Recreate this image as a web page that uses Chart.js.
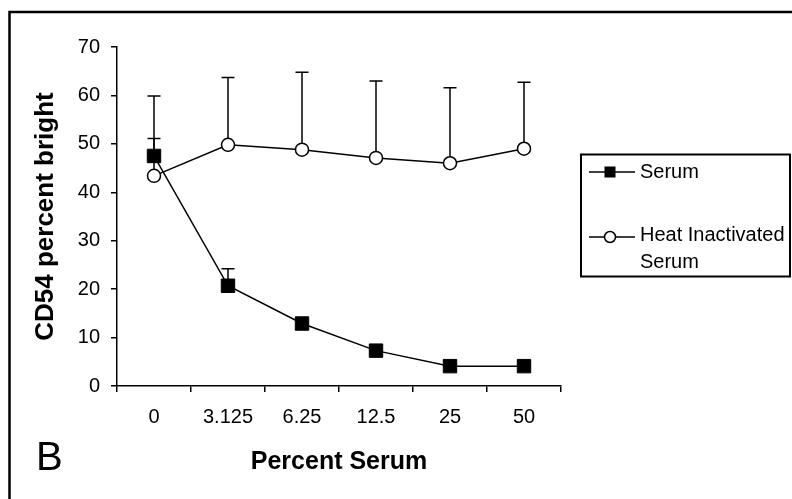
<!DOCTYPE html>
<html>
<head>
<meta charset="utf-8">
<script src="https://cdn.jsdelivr.net/npm/chart.js@4/dist/chart.umd.min.js"></script>
<style>
  html, body { margin: 0; padding: 0; background: #fff; }
  #wrap { position: relative; width: 792px; height: 499px; }
</style>
</head>
<body>
<div id="wrap"><canvas id="cd54Chart" width="792" height="499"></canvas></div>
<script>
// Data
const categories = ['0', '3.125', '6.25', '12.5', '25', '50'];
const serum = [47.5, 20.7, 12.9, 7.3, 4.1, 4.1];
const serumErr = [3.6, 3.5, 0.8, 0.7, 0.4, 0.4];
const heat = [43.4, 49.8, 48.8, 47.1, 46.0, 49.0];
const heatErr = [16.5, 13.9, 16.0, 15.9, 15.6, 13.7];
const seriesNames = ['Serum', 'Heat Inactivated Serum'];
const yMin = 0, yMax = 70, yStep = 10;

const FONT = "'Liberation Sans', Arial, sans-serif";

// One-sided (upper) error bars, drawn before the markers so the circles sit on top
const errorBars = {
    id: 'errorBars',
    beforeDatasetsDraw(chart) {
        const { ctx, scales: { x, y } } = chart;
        const sets = [[serum, serumErr], [heat, heatErr]];
        ctx.save();
        ctx.strokeStyle = '#000';
        ctx.lineWidth = 1.5;
        sets.forEach(([vals, errs]) => {
            vals.forEach((v, i) => {
                const px = x.getPixelForValue(i);
                const y0 = y.getPixelForValue(v);
                const y1 = y.getPixelForValue(v + errs[i]);
                ctx.beginPath();
                ctx.moveTo(px, y0);
                ctx.lineTo(px, y1);
                ctx.moveTo(px - 6.5, y1);
                ctx.lineTo(px + 6.5, y1);
                ctx.stroke();
            });
        });
        ctx.restore();
    }
};

// Frame, panel letter and boxed legend
const decorations = {
    id: 'decorations',
    afterDraw(chart) {
        const ctx = chart.ctx;
        ctx.save();
        // outer frame (top and left only)
        ctx.strokeStyle = '#000';
        ctx.lineWidth = 2.5;
        ctx.beginPath();
        ctx.moveTo(9.5, 499);
        ctx.lineTo(9.5, 12);
        ctx.lineTo(792, 12);
        ctx.stroke();

        // panel letter
        ctx.fillStyle = '#000';
        ctx.font = '40px ' + FONT;
        ctx.textBaseline = 'alphabetic';
        ctx.textAlign = 'left';
        ctx.fillText('B', 36, 470);

        // legend box
        ctx.lineWidth = 2;
        ctx.strokeRect(581, 154.5, 209, 122);

        ctx.lineWidth = 1.5;
        ctx.font = '20px ' + FONT;
        ctx.textBaseline = 'middle';

        // Serum
        ctx.beginPath();
        ctx.moveTo(589, 172);
        ctx.lineTo(635, 172);
        ctx.stroke();
        ctx.fillRect(604.5, 166.5, 11, 11);
        ctx.fillText(seriesNames[0], 640, 172);

        // Heat inactivated
        ctx.beginPath();
        ctx.moveTo(589, 237);
        ctx.lineTo(635, 237);
        ctx.stroke();
        ctx.beginPath();
        ctx.arc(610, 237, 5.5, 0, Math.PI * 2);
        ctx.fillStyle = '#fff';
        ctx.fill();
        ctx.stroke();
        ctx.fillStyle = '#000';
        ctx.fillText('Heat Inactivated', 640, 235);
        ctx.fillText('Serum', 640, 262);
        ctx.restore();
    }
};

const ctx = document.getElementById('cd54Chart').getContext('2d');

new Chart(ctx, {
    type: 'line',
    data: {
        labels: categories,
        datasets: [{
            label: seriesNames[0],
            data: serum,
            borderColor: '#000',
            borderWidth: 1.5,
            backgroundColor: '#000',
            pointStyle: 'rect',
            pointRadius: 9.5,
            pointBackgroundColor: '#000',
            pointBorderColor: '#000',
            pointBorderWidth: 1,
            tension: 0,
            fill: false
        }, {
            label: seriesNames[1],
            data: heat,
            borderColor: '#000',
            borderWidth: 1.5,
            backgroundColor: '#fff',
            pointStyle: 'circle',
            pointRadius: 6.5,
            pointBackgroundColor: '#fff',
            pointBorderColor: '#000',
            pointBorderWidth: 1.5,
            tension: 0,
            fill: false
        }]
    },
    options: {
        responsive: false,
        animation: false,
        layout: {
            padding: { left: 0, top: 47, right: 231, bottom: 0 }
        },
        plugins: {
            legend: { display: false },
            tooltip: { enabled: false }
        },
        scales: {
            x: {
                type: 'category',
                offset: true,
                grid: {
                    offset: true,
                    drawOnChartArea: false,
                    drawTicks: true,
                    tickLength: 6,
                    color: '#000',
                    lineWidth: 1.5
                },
                border: { display: true, color: '#000', width: 1.5 },
                ticks: {
                    color: '#000',
                    padding: 13,
                    maxRotation: 0,
                    font: { family: FONT, size: 20 }
                },
                title: {
                    display: true,
                    text: 'Percent Serum',
                    color: '#000',
                    padding: { top: 0, bottom: 22 },
                    font: { family: FONT, size: 25, weight: 'bold' }
                },
                afterFit(scale) { scale.height = 113; }
            },
            y: {
                min: yMin,
                max: yMax,
                grid: {
                    drawOnChartArea: false,
                    drawTicks: true,
                    tickLength: 6,
                    color: '#000',
                    lineWidth: 1.5
                },
                border: { display: true, color: '#000', width: 1.5 },
                ticks: {
                    stepSize: yStep,
                    color: '#000',
                    padding: 11,
                    font: { family: FONT, size: 20 }
                },
                title: {
                    display: true,
                    text: 'CD54 percent bright',
                    color: '#000',
                    padding: { top: 30, bottom: 0 },
                    font: { family: FONT, size: 26, weight: 'bold' }
                },
                afterFit(scale) { scale.width = 117; }
            }
        }
    },
    plugins: [errorBars, decorations]
});
</script>
</body>
</html>
